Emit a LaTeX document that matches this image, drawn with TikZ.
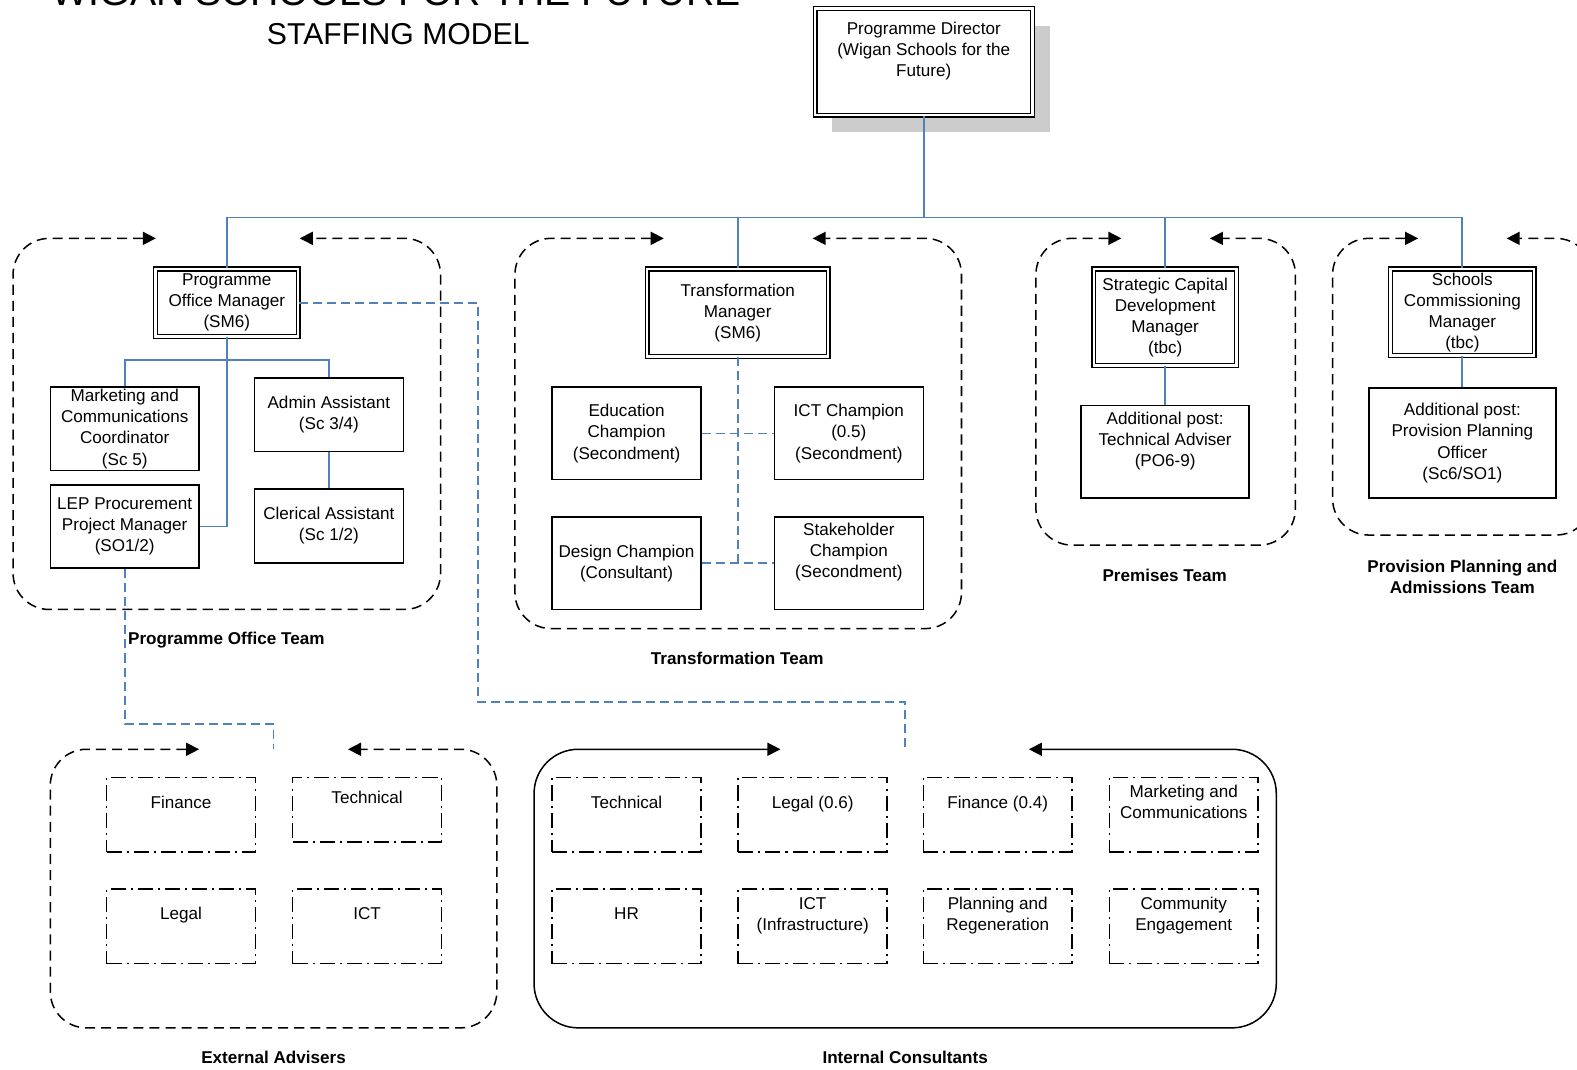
\documentclass[tikz,border=0pt]{standalone}
\usepackage{fontspec}
\setmainfont{Liberation Sans}
\usetikzlibrary{arrows.meta,shadows}
\definecolor{orgblue}{RGB}{79,129,189}
\newcommand{\boxfont}{\fontsize{8.5}{10.5}\selectfont}
\newcommand{\lift}{\\[2pt]\mbox{}}

\begin{document}
\begin{tikzpicture}[x=0.5pt, y=-0.5pt]
	\def\rowA{810}
	\def\rowB{921}

	\tikzset{
		basic/.style={rectangle, draw=black, line width=0.75pt, fill=white, align=center, font=\boxfont, inner sep=0.5pt},
		postbox/.style={basic, minimum width=74pt},
		headbox/.style={basic, double=white, double distance=1.2pt, line width=0.7pt},
		advbox/.style={basic, dash pattern=on 7.5pt off 2.5pt on 1pt off 2.5pt, minimum width=74pt, minimum height=37pt},
		teamlabel/.style={font=\bfseries\boxfont, align=center},
		teamframe/.style={<->, >={Triangle[length=6.5pt,width=6.5pt]}, line width=0.75pt, dash pattern=on 5pt off 3pt, rounded corners=18pt},
		poolframe/.style={teamframe, solid, rounded corners=22pt},
		orgline/.style={draw=orgblue, line width=0.9pt},
		linkline/.style={orgline, dash pattern=on 4.5pt off 2.5pt}
	}

	\useasboundingbox (0,0) rectangle (1568,1063);
	\clip (0,0) rectangle (1568,1063);

	% title
	\node[font=\fontsize{19.5}{23}\selectfont, anchor=base] (title) at (394,5) {WIGAN SCHOOLS FOR THE FUTURE};
	\node[font=\fontsize{15}{18}\selectfont, anchor=base] (subtitle) at (396,44) {STAFFING MODEL};

	% team frames
	\draw[teamframe] (155,237) -- (13,237) -- (13,606) -- (438,606) -- (438,237) -- (298,237);
	\draw[teamframe] (660,237) -- (512,237) -- (512,625) -- (956,625) -- (956,237) -- (808,237);
	\draw[teamframe] (1115,237) -- (1030,237) -- (1030,542) -- (1288,542) -- (1288,237) -- (1203,237);
	\draw[teamframe] (1410,237) -- (1325,237) -- (1325,532) -- (1583,532) -- (1583,237) -- (1498,237);
	\draw[teamframe] (198,745) -- (50,745) -- (50,1022) -- (494,1022) -- (494,745) -- (346,745);
	\draw[poolframe] (776,745) -- (531,745) -- (531,1022) -- (1269,1022) -- (1269,745) -- (1023,745);
	\coordinate (EAgap) at (272,745);
	\coordinate (ICgap) at (900,745);

	\node[teamlabel] (POTlabel) at (225,636) {Programme Office Team};
	\node[teamlabel] (TTlabel) at (733,655) {Transformation Team};
	\node[teamlabel] (PTlabel) at (1158,572) {Premises Team};
	\node[teamlabel] (PPATlabel) at (1454,573.5) {Provision Planning and\\Admissions Team};
	\node[teamlabel] (EAlabel) at (272,1051) {External Advisers};
	\node[teamlabel] (IClabel) at (900,1051) {Internal Consultants};

	% director
	\node[headbox, minimum width=108pt, minimum height=53pt,
		drop shadow={shadow xshift=8.5pt, shadow yshift=-8.5pt, fill=black!20, opacity=1}]
		(PD) at (918.5,61.5) {Programme Director\\(Wigan Schools for the\\Future)\lift};

	% team heads
	\node[headbox, minimum width=71pt, minimum height=33.5pt] (POM) at (225.5,301) {Programme\\Office Manager\\(SM6)};
	\node[headbox, minimum width=90pt, minimum height=43.5pt] (TM) at (733.5,311) {Transformation\\Manager\\(SM6)};
	\node[headbox, minimum width=71pt, minimum height=48pt] (SCDM) at (1158.5,315.5) {Strategic Capital\\Development\\Manager\\(tbc)};
	\node[headbox, minimum width=71.5pt, minimum height=43pt] (SCM) at (1454,310.5) {Schools\\Commissioning\\Manager\\(tbc)};

	% programme office posts
	\node[postbox, minimum height=41.5pt] (MCC) at (124,426.5) {Marketing and\\Communications\\Coordinator\\(Sc 5)};
	\node[postbox, minimum height=36.5pt] (AA) at (327,412.5) {Admin Assistant\\(Sc 3/4)};
	\node[postbox, minimum height=37pt] (CA) at (327,523) {Clerical Assistant\\(Sc 1/2)};
	\node[postbox, minimum height=41.5pt] (LEP) at (124,523.5) {LEP Procurement\\Project Manager\\(SO1/2)};

	% transformation posts
	\node[postbox, minimum height=46pt] (EC) at (623,431) {Education\\Champion\\(Secondment)};
	\node[postbox, minimum height=46pt] (ICTC) at (844,431) {ICT Champion\\(0.5)\\(Secondment)};
	\node[postbox, minimum height=46pt] (DC) at (623,560) {Design Champion\\(Consultant)};
	\node[postbox, minimum height=46pt] (SC) at (844,560) {Stakeholder\\Champion\\(Secondment)\lift};

	% premises and provision posts
	\node[basic, minimum width=83.5pt, minimum height=46pt] (TA) at (1158.5,449) {Additional post:\\Technical Adviser\\(PO6-9)\lift};
	\node[basic, minimum width=93pt, minimum height=54.5pt] (PPO) at (1454,440.5) {Additional post:\\Provision Planning\\Officer\\(Sc6/SO1)};

	% external advisers
	\node[advbox] (EAfin) at (180,\rowA) {Finance\lift};
	\node[advbox, minimum height=32pt] (EAtech) at (365,805) {Technical\lift};
	\node[advbox] (EAlegal) at (180,\rowB) {Legal\lift};
	\node[advbox] (EAict) at (365,\rowB) {ICT\lift};

	% internal consultants
	\node[advbox] (ICtech) at (623,\rowA) {Technical\lift};
	\node[advbox] (IClegal) at (808,\rowA) {Legal (0.6)\lift};
	\node[advbox] (ICfin) at (992,\rowA) {Finance (0.4)\lift};
	\node[advbox] (ICmark) at (1177,\rowA) {Marketing and\\Communications\lift};
	\node[advbox] (IChr) at (623,\rowB) {HR\lift};
	\node[advbox] (ICict) at (808,\rowB) {ICT\\(Infrastructure)\lift};
	\node[advbox] (ICplan) at (992,\rowB) {Planning and\\Regeneration\lift};
	\node[advbox] (ICcomm) at (1177,\rowB) {Community\\Engagement\lift};

	% line management
	\draw[orgline] (PD.south) -- ++(0,101) coordinate (hub);
	\draw[orgline] (POM.north) |- (SCM.north |- hub) -- (SCM.north);
	\draw[orgline] (TM.north) -- (TM.north |- hub);
	\draw[orgline] (SCDM.north) -- (SCDM.north |- hub);

	\draw[orgline] (POM.south) -- ++(0,23) coordinate (pomhub);
	\draw[orgline] (MCC.north) |- (pomhub) -| (AA.north);
	\draw[orgline] (pomhub) |- (LEP.east);
	\draw[orgline] (AA) -- (CA);
	\draw[orgline] (SCDM) -- (TA);
	\draw[orgline] (SCM) -- (PPO);

	% dotted reporting
	\draw[linkline] (TM.south) -- (TM.south |- DC.east);
	\draw[linkline] (DC.east) -- (SC.west);
	\draw[linkline] (EC.east) -- (ICTC.west);
	\draw[linkline] (POM.east) -| (475,698) -| (ICgap);
	\draw[linkline] (LEP.south) |- (272,720) -- (EAgap);
\end{tikzpicture}
\end{document}
